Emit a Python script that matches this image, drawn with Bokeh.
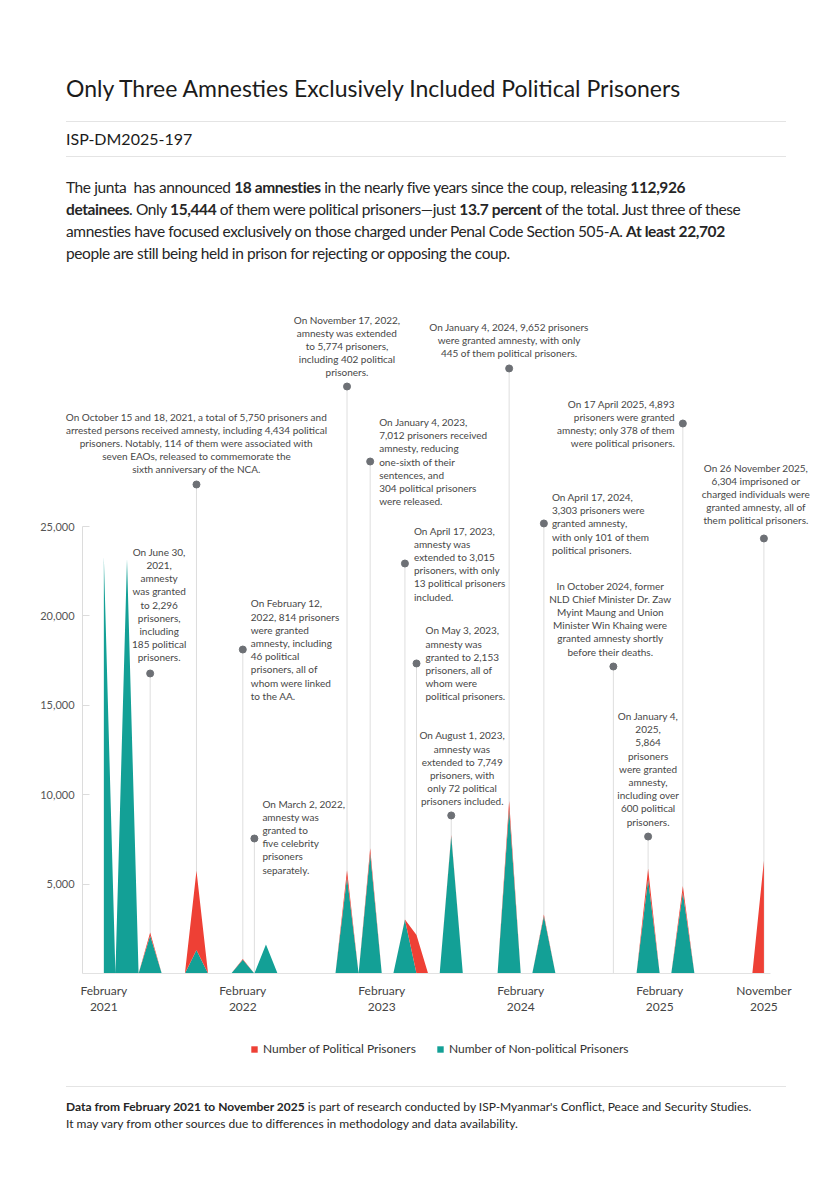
import pandas as pd
from bokeh.plotting import figure
from bokeh.models import (ColumnDataSource, Range1d, FixedTicker, Label, Legend,
                          LegendItem, Div, NumeralTickFormatter)
from bokeh.layouts import column
from bokeh.embed import file_html
from bokeh.resources import INLINE

# ---------------- data ----------------
amnesty_months = ["2021-02", "2021-04", "2021-06", "2021-10", "2022-02", "2022-03",
                  "2022-04", "2022-11", "2023-01", "2023-04", "2023-05", "2023-08",
                  "2024-01", "2024-04", "2024-10", "2025-01", "2025-04", "2025-11"]
total_released = [23314, 23184, 2296, 5750, 814, 5, 1619, 5774, 7012, 3015, 2153,
                  7749, 9652, 3303, 2, 5864, 4893, 6304]
political_released = [0, 0, 185, 4434, 46, 5, 0, 402, 304, 13, 2153, 72, 445, 101,
                      2, 600, 378, 6304]

x_tick_months = ["2021-02", "2022-02", "2023-02", "2024-02", "2025-02", "2025-11"]
x_tick_labels = ["February\n2021", "February\n2022", "February\n2023",
                 "February\n2024", "February\n2025", "November\n2025"]
y_ticks = [5000, 10000, 15000, 20000, 25000]

# annotations: month, text, dot height (layout), placement
ann_months = ["2021-06", "2021-10", "2022-02", "2022-03", "2022-11", "2023-01",
              "2023-04", "2023-05", "2023-08", "2024-01", "2024-04", "2024-10",
              "2025-01", "2025-04", "2025-11"]
ann_texts = [
    "On June 30,\n2021,\namnesty\nwas granted\nto 2,296\nprisoners,\nincluding\n185 political\nprisoners.",
    "On October 15 and 18, 2021, a total of 5,750 prisoners and\narrested persons received amnesty, including 4,434 political\nprisoners. Notably, 114 of them were associated with\nseven EAOs, released to commemorate the\nsixth anniversary of the NCA.",
    "On February 12,\n2022, 814 prisoners\nwere granted\namnesty, including\n46 political\nprisoners, all of\nwhom were linked\nto the AA.",
    "On March 2, 2022,\namnesty was\ngranted to\nfive celebrity\nprisoners\nseparately.",
    "On November 17, 2022,\namnesty was extended\nto 5,774 prisoners,\nincluding 402 political\nprisoners.",
    "On January 4, 2023,\n7,012 prisoners received\namnesty, reducing\none-sixth of their\nsentences, and\n304 political prisoners\nwere released.",
    "On April 17, 2023,\namnesty was\nextended to 3,015\nprisoners, with only\n13 political prisoners\nincluded.",
    "On May 3, 2023,\namnesty was\ngranted to 2,153\nprisoners, all of\nwhom were\npolitical prisoners.",
    "On August 1, 2023,\namnesty was\nextended to 7,749\nprisoners, with\nonly 72 political\nprisoners included.",
    "On January 4, 2024, 9,652 prisoners\nwere granted amnesty, with only\n445 of them political prisoners.",
    "On April 17, 2024,\n3,303 prisoners were\ngranted amnesty,\nwith only 101 of them\npolitical prisoners.",
    "In October 2024, former\nNLD Chief Minister Dr. Zaw\nMyint Maung and Union\nMinister Win Khaing were\ngranted amnesty shortly\nbefore their deaths.",
    "On January 4,\n2025,\n5,864\nprisoners\nwere granted\namnesty,\nincluding over\n600 political\nprisoners.",
    "On 17 April 2025, 4,893\nprisoners were granted\namnesty; only 378 of them\nwere political prisoners.",
    "On 26 November 2025,\n6,304 imprisoned or\ncharged individuals were\ngranted amnesty, all of\nthem political prisoners.",
]
ann_dot_y = [16780, 27350, 18120, 7550, 32830, 28635, 22930, 17340, 8840, 33840,
             25170, 17170, 7660, 30760, 24330]
# placement: (align, baseline, x_offset, y_offset)
ann_place = [("center", "bottom", 9, 10), ("center", "bottom", 0, 9),
             ("left", "middle", 8, 0), ("left", "middle", 8, 2),
             ("center", "bottom", 0, 8), ("left", "middle", 9, 0),
             ("left", "middle", 9, 0), ("left", "middle", 9, 0),
             ("center", "bottom", 11, 8), ("center", "bottom", 0, 9),
             ("left", "middle", 8, 0), ("center", "bottom", -3, 9),
             ("center", "bottom", 0, 9), ("right", "middle", -8, 0),
             ("center", "bottom", -8, 12)]

RED = "#ee4035"
TEAL = "#13a096"
FONT = "Lato"

# ---------------- monthly series ----------------
months = [str(p) for p in pd.period_range("2021-02", "2025-11", freq="M")]
idx = {m: i for i, m in enumerate(months)}
pol = [0] * len(months)
nonpol = [0] * len(months)
for mo, t, pp in zip(amnesty_months, total_released, political_released):
    pol[idx[mo]] = pp
    nonpol[idx[mo]] = t - pp
src = ColumnDataSource(dict(m=list(range(len(months))), nonpol=nonpol, pol=pol))

ann_x = [idx[m] for m in ann_months]

X_AXIS_START, X_AXIS_END = -1.84, 57.57

p = figure(width=832, height=785, x_range=Range1d(-8.06, 62.75),
           y_range=Range1d(-5425, 37640), output_backend="svg", toolbar_location=None,
           min_border_left=10, min_border_right=2, min_border_top=10,
           min_border_bottom=5)
p.outline_line_color = None
p.xgrid.visible = False
p.ygrid.visible = False
p.background_fill_color = "white"
p.border_fill_color = "white"

# annotation leader lines (behind areas)
p.segment(x0=ann_x, y0=[0] * len(ann_x), x1=ann_x, y1=ann_dot_y,
          line_color="#dedede", line_width=1)

areas = p.varea_stack(["nonpol", "pol"], x="m", color=[TEAL, RED], source=src)

p.scatter(x=ann_x, y=ann_dot_y, size=7, color="#6d7075")

for x, y, t, (al, bl, xo, yo) in zip(ann_x, ann_dot_y, ann_texts, ann_place):
    p.add_layout(Label(x=x, y=y, text=t, text_align=al, text_baseline=bl,
                       x_offset=xo, y_offset=yo, text_font=FONT,
                       text_font_size="10px", text_color="#474747",
                       text_line_height=1.1))

# y axis on the left edge of the data area
yax = p.yaxis[0]
yax.fixed_location = X_AXIS_START
yax.ticker = FixedTicker(ticks=y_ticks)
yax.formatter = NumeralTickFormatter(format="0,0")
yax.bounds = (0, 25000)
yax.axis_line_color = "#dcdcdc"
yax.major_tick_line_color = "#dcdcdc"
yax.major_tick_in = 7
yax.major_tick_out = 0
yax.minor_tick_line_color = None
yax.major_label_standoff = 8
yax.major_label_text_font = FONT
yax.major_label_text_font_size = "11px"
yax.major_label_text_color = "#555555"

# x axis placed on the zero baseline
xax = p.xaxis[0]
xax.fixed_location = 0
xax.bounds = (X_AXIS_START, X_AXIS_END)
xax.ticker = FixedTicker(ticks=[idx[m] for m in x_tick_months])
xax.major_label_overrides = {idx[m]: l for m, l in zip(x_tick_months, x_tick_labels)}
xax.axis_line_color = "#e2e2e2"
xax.major_tick_line_color = None
xax.minor_tick_line_color = None
xax.major_label_standoff = 3
xax.major_label_text_font = FONT
xax.major_label_text_font_size = "12px"
xax.major_label_text_color = "#444444"
xax.major_label_text_line_height = 1.1

legend = Legend(items=[LegendItem(label="Number of Political Prisoners", renderers=[areas[1]]),
                       LegendItem(label="Number of Non-political Prisoners", renderers=[areas[0]])],
                orientation="horizontal", location=(240, 14), border_line_color=None,
                background_fill_alpha=0, glyph_width=8, glyph_height=8,
                label_text_font=FONT, label_text_font_size="12px",
                label_text_color="#333333", spacing=20, label_standoff=5,
                padding=0, margin=0)
p.add_layout(legend)

header_html = f"""
<div style="position:relative;width:832px;height:290px;font-family:{FONT};color:#1b1b1b;">
 <div style="position:absolute;left:66px;top:74px;font-size:23px;line-height:28px;white-space:nowrap;">Only Three Amnesties Exclusively Included Political Prisoners</div>
 <div style="position:absolute;left:66px;top:121px;width:720px;height:1px;background:#e4e4e4;"></div>
 <div style="position:absolute;left:66px;top:129px;font-size:16px;line-height:20px;white-space:nowrap;">ISP-DM2025-197</div>
 <div style="position:absolute;left:66px;top:156px;width:720px;height:1px;background:#e4e4e4;"></div>
 <div style="position:absolute;left:66px;top:176px;font-size:15.5px;line-height:22px;white-space:nowrap;letter-spacing:-0.4px;color:#262626;">
The junta&nbsp; has announced <b>18 amnesties</b> in the nearly five years since the coup, releasing <b>112,926</b><br>
<b>detainees</b>. Only <b>15,444</b> of them were political prisoners—just <b>13.7 percent</b> of the total. Just three of these<br>
amnesties have focused exclusively on those charged under Penal Code Section 505-A. <b>At least 22,702</b><br>
people are still being held in prison for rejecting or opposing the coup.</div>
</div>"""

footer_html = f"""
<div style="position:relative;width:832px;height:117px;font-family:{FONT};color:#262626;">
 <div style="position:absolute;left:66px;top:11px;width:720px;height:1px;background:#e4e4e4;"></div>
 <div style="position:absolute;left:66px;top:23px;font-size:12px;line-height:17px;white-space:nowrap;">
<b>Data from February 2021 to November 2025</b> is part of research conducted by ISP-Myanmar's Conflict, Peace and Security Studies.<br>
It may vary from other sources due to differences in methodology and data availability.</div>
</div>"""

header = Div(text=header_html, width=832, height=290, margin=(0, 0, 0, 0))
footer = Div(text=footer_html, width=832, height=117, margin=(0, 0, 0, 0))

layout = column(header, p, footer, spacing=0)

open("out.html", "w").write(file_html(layout, INLINE))
